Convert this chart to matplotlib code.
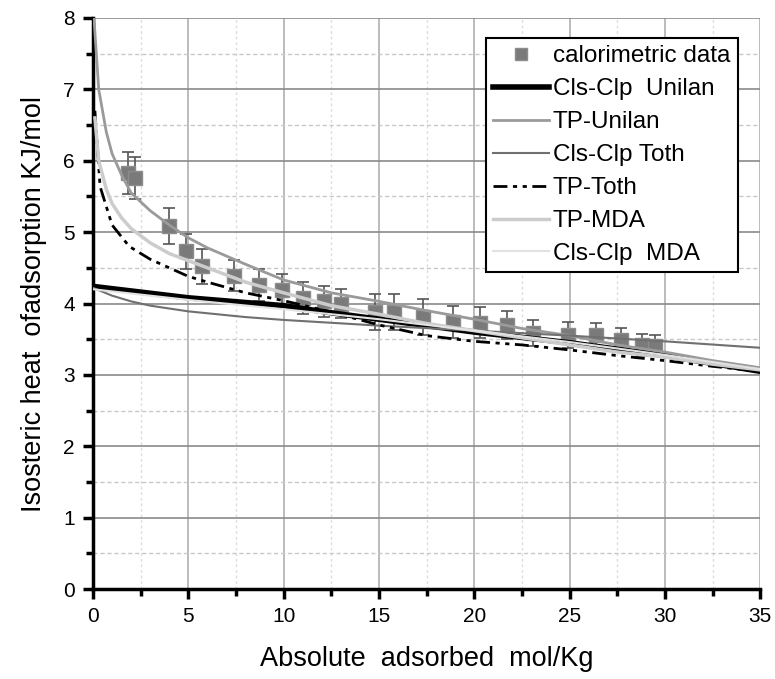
import matplotlib
matplotlib.use('Agg')
import matplotlib.pyplot as plt
from matplotlib.ticker import MultipleLocator

plt.rcParams['font.family'] = ['Liberation Sans', 'DejaVu Sans']

# calorimetric data (mol/Kg, KJ/mol) with error bars
cal_x = [1.84, 2.2, 4.0, 4.9, 5.7, 7.4, 8.7, 9.9, 11.0, 12.1, 13.0, 14.8, 15.8,
         17.3, 18.9, 20.3, 21.7, 23.1, 24.9, 26.4, 27.7, 28.8, 29.5]
cal_y = [5.83, 5.76, 5.09, 4.73, 4.52, 4.39, 4.26, 4.19, 4.08, 4.03, 4.0, 3.88, 3.88,
         3.81, 3.74, 3.73, 3.70, 3.59, 3.56, 3.56, 3.49, 3.42, 3.41]
cal_err = [0.29, 0.29, 0.25, 0.25, 0.25, 0.22, 0.22, 0.22, 0.22, 0.22, 0.2, 0.25, 0.25,
           0.25, 0.22, 0.22, 0.2, 0.18, 0.18, 0.16, 0.16, 0.15, 0.15]

x_tp_unilan = [0.05, 0.3, 0.7, 1, 1.5, 2, 3, 4, 5, 6, 8, 10, 12.5, 15, 17.5, 20, 22.5, 25, 27.5, 30, 32.5, 35]
y_tp_unilan = [8.0, 7.0, 6.4, 6.1, 5.8, 5.55, 5.3, 5.1, 4.92, 4.78, 4.55, 4.33, 4.15, 4.03, 3.9,
               3.78, 3.65, 3.55, 3.42, 3.32, 3.2, 3.1]

x_tp_mda = [0.1, 0.3, 0.7, 1, 1.5, 2, 3, 4, 5, 6, 8, 10, 12.5, 15, 17.5, 20, 22.5, 25, 27.5, 30, 32.5, 35]
y_tp_mda = [6.6, 6.0, 5.6, 5.4, 5.2, 5.05, 4.85, 4.7, 4.6, 4.5, 4.3, 4.15, 3.97, 3.85, 3.72,
            3.62, 3.52, 3.42, 3.32, 3.25, 3.15, 3.07]

x_tp_toth = [0.1, 0.37, 1, 1.9, 3, 4, 5, 6, 8, 10, 12.5, 15, 17.5, 20, 22.5, 25, 27.5, 30, 32.5, 35]
y_tp_toth = [6.7, 5.64, 5.1, 4.8, 4.62, 4.5, 4.38, 4.3, 4.15, 4.04, 3.88, 3.7, 3.55, 3.47, 3.42,
             3.35, 3.27, 3.2, 3.12, 3.05]

x_cls_unilan = [0, 5, 10, 12.5, 15, 20, 25, 30, 35]
y_cls_unilan = [4.24, 4.08, 3.97, 3.87, 3.78, 3.6, 3.45, 3.27, 3.05]

x_cls_toth = [0, 1, 2, 3, 5, 8, 10, 12.5, 15, 20, 25, 30, 35]
y_cls_toth = [4.22, 4.11, 4.03, 3.97, 3.89, 3.81, 3.77, 3.73, 3.69, 3.62, 3.55, 3.47, 3.38]

x_cls_mda = [0, 5, 10, 15, 20, 25, 30, 35]
y_cls_mda = [4.2, 4.05, 3.92, 3.78, 3.62, 3.46, 3.28, 3.08]

fig = plt.figure(figsize=(7.75, 6.79), dpi=100)
ax = fig.add_axes([0.12, 0.1325, 0.861, 0.841])

eb = ax.errorbar(cal_x, cal_y, yerr=cal_err, fmt='s', color='#7a7a7a', ecolor='#555555',
                 elinewidth=1.2, capsize=4, capthick=1.2, markersize=10,
                 markeredgecolor='#8c8c8c', zorder=3)
l1, = ax.plot(x_cls_unilan, y_cls_unilan, color='black', lw=4, zorder=4)
l2, = ax.plot(x_tp_unilan, y_tp_unilan, color='#9a9a9a', lw=2, zorder=4)
l3, = ax.plot(x_cls_toth, y_cls_toth, color='#707070', lw=1.5, zorder=4)
l4, = ax.plot(x_tp_toth, y_tp_toth, color='black', lw=2, linestyle=(0, (5, 2, 1.5, 2, 1.5, 2)),
              zorder=4)
l5, = ax.plot(x_tp_mda, y_tp_mda, color='#cccccc', lw=2.5, zorder=4)
l6, = ax.plot(x_cls_mda, y_cls_mda, color='#e2e2e2', lw=1.5, zorder=4)

ax.set_xlim(0, 35)
ax.set_ylim(0, 8)
ax.xaxis.set_major_locator(MultipleLocator(5))
ax.xaxis.set_minor_locator(MultipleLocator(2.5))
ax.yaxis.set_major_locator(MultipleLocator(1))
ax.yaxis.set_minor_locator(MultipleLocator(0.5))

ax.grid(which='major', axis='y', color='#8a8a8a', lw=1.2)
ax.grid(which='minor', axis='y', color='#c8c8c8', lw=1, linestyle=(0, (3, 2)))
ax.grid(which='major', axis='x', color='#b0b0b0', lw=1.2)
ax.grid(which='minor', axis='x', color='#dddddd', lw=1, linestyle=(0, (2, 2)))
ax.set_axisbelow(True)

for s in ['top', 'right']:
    ax.spines[s].set_visible(False)
for s in ['left', 'bottom']:
    ax.spines[s].set_linewidth(2.5)
ax.tick_params(which='major', direction='out', length=7, width=2.5, labelsize=15, pad=6)
ax.tick_params(which='minor', direction='out', length=5, width=2.5)

ax.set_xlabel('Absolute  adsorbed  mol/Kg', fontsize=19.5, labelpad=14)
ax.set_ylabel('Isosteric heat  ofadsorption KJ/mol', fontsize=19.5, labelpad=12)

handles = [eb[0], l1, l2, l3, l4, l5, l6]
labels = ['calorimetric data', 'Cls-Clp  Unilan', 'TP-Unilan', 'Cls-Clp Toth',
          'TP-Toth', 'TP-MDA', 'Cls-Clp  MDA']
leg = ax.legend(handles, labels, loc='upper right', bbox_to_anchor=(0.966, 0.965), fontsize=17.5,
                frameon=True, fancybox=False, edgecolor='black', framealpha=1,
                handlelength=2.3, handletextpad=0.15, labelspacing=0.45, borderpad=0.3,
                borderaxespad=0, markerscale=0.8)
leg.get_frame().set_linewidth(1.5)

fig.savefig('out.png', dpi=100)
